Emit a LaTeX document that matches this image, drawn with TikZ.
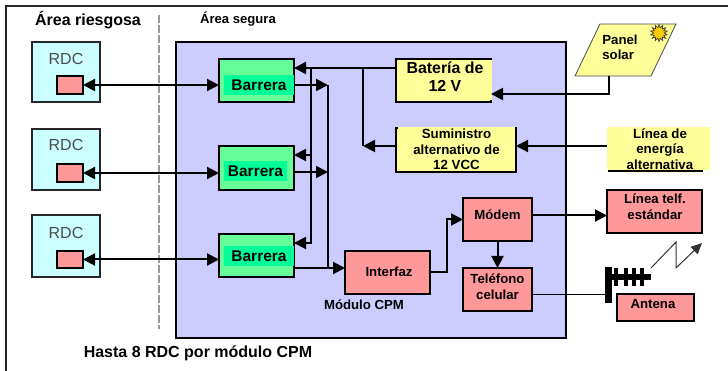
\documentclass[tikz,border=0pt]{standalone}
\usepackage{fontspec}
\setmainfont{Liberation Sans}
\usetikzlibrary{arrows.meta,shapes.geometric}
\definecolor{rdcfill}{HTML}{CCFFFF}
\definecolor{redfill}{HTML}{FF9999}
\definecolor{greenfill}{HTML}{66FF99}
\definecolor{greentext}{HTML}{00FF99}
\definecolor{bluefill}{HTML}{CCCCFF}
\definecolor{yellowfill}{HTML}{FFFF99}
\definecolor{sunfill}{HTML}{FFCC00}
\newcommand\fs[1]{\fontsize{#1}{#1}\selectfont}
\newcommand\bx[7]{\node[#6,minimum width={((#4)-(#2))*1pt},minimum height={((#5)-(#3))*1pt}] (#1) at ({((#2)+(#4))/2},{((#3)+(#5))/2}) {#7};}
\tikzset{
 base/.style={inner sep=0pt,outer sep=0pt,align=center},
 box/.style={base,draw=black,line width=2pt},
 rdcbox/.style={box,draw=black!85,fill=rdcfill},
 redbox/.style={box,fill=redfill},
 barbox/.style={box,fill=greenfill},
 yelbox/.style={box,fill=yellowfill},
 panel/.style={base,fill=bluefill,draw=black,line width=2pt},
 bartext/.style={base,fill=greentext,font=\bfseries\fs{15.5}},
 yeltext/.style={base,font=\bfseries\fs{13.3},execute at begin node=\setlength{\baselineskip}{15.3pt}},
 lbl/.style={base,font=\bfseries\fs{13.2},execute at begin node=\setlength{\baselineskip}{16pt}},
 rdclbl/.style={base,text=black!70,font=\fs{16}},
 conn/.style={line width=2pt,draw=black},
 arr/.style={conn,-{Triangle[length=12pt,width=12pt]}},
 darr/.style={conn,{Triangle[length=12pt,width=12pt]}-{Triangle[length=12pt,width=12pt]}},
}
\begin{document}
\begin{tikzpicture}[x=1pt,y=-1pt]
\useasboundingbox (0,0) rectangle (728,371);
\fill[white] (0,0) rectangle (728,371);
\coordinate (fa) at (6,371); \coordinate (fb) at (6,6); \coordinate (fc) at (728,6);
\draw[line width=2pt,black!85] (fa) -- (fb) -- (fc);
\coordinate (da) at (159,15); \coordinate (db) at (159,329);
\draw[line width=1.2pt,black!40,dash pattern=on 8pt off 2pt] (da) -- (db);
% module panel
\bx{mod}{176}{42}{566}{338}{panel}{}
% RDC
\bx{d1}{32}{42}{100}{102}{rdcbox}{}
\bx{d2}{32}{129}{100}{190}{rdcbox}{}
\bx{d3}{32}{215}{100}{277}{rdcbox}{}
\node[rdclbl] (dt1) at (66,59) {RDC};
\node[rdclbl] (dt2) at (66,145) {RDC};
\node[rdclbl] (dt3) at (66,233) {RDC};
\bx{r1}{57}{76}{83}{94}{redbox}{}
\bx{r2}{57}{164}{83}{182}{redbox}{}
\bx{r3}{57}{251}{83}{268}{redbox}{}
% Barriers
\bx{b1}{219}{59}{294}{102}{barbox}{}
\bx{b2}{219}{146}{294}{190}{barbox}{}
\bx{b3}{219}{234}{294}{277}{barbox}{}
\bx{bt1}{224}{75}{294}{95}{bartext}{Barrera}
\bx{bt2}{224}{161}{287}{181}{bartext}{Barrera}
\bx{bt3}{224}{246}{294}{266}{bartext}{Barrera}
% Supply
\bx{bat}{396}{59}{491}{102}{yelbox}{}
\bx{batfill}{397.5}{60}{492}{100.5}{base,fill=yellowfill}{}
\node[base,font=\bfseries\fs{15.9},execute at begin node=\setlength{\baselineskip}{18pt}] (battx) at (445,76.5) {Batería de\\12 V};
\bx{sum}{396}{128}{516}{172}{yelbox}{}
\bx{sumfill}{398}{127}{515}{169.5}{base,fill=yellowfill}{}
\node[yeltext] (sumtx) at (456.5,149.5) {Suministro\\alternativo de\\12 VCC};
\coordinate (lina) at (608,171); \coordinate (linb) at (703,171);
\draw[line width=2pt] (lina) -- (linb);
\bx{lin}{607}{127}{710}{170}{base,fill=yellowfill}{}
\node[yeltext] (lintx) at (660,149) {Línea de\\energía\\alternativa};
% Solar panel
\coordinate (s1) at (600,24); \coordinate (s2) at (676,24); \coordinate (s3) at (651,76); \coordinate (s4) at (575,76);
\draw[line width=0.8pt,draw=black!70,fill=yellowfill] (s1) -- (s2) -- (s3) -- (s4) -- cycle;
\node[base,font=\bfseries\fs{13.2},align=left,execute at begin node=\setlength{\baselineskip}{15pt}] (soltx) at (620,47) {Panel\\solar};
\node[star,star points=14,star point ratio=1.6,minimum size=17pt,inner sep=0pt,draw=black!75,fill=sunfill,line width=0.7pt] (sun) at (659,33) {};
% CPM
\bx{ifz}{345}{251}{430}{294}{redbox}{}
\node[lbl] (ifzt) at (389,272) {Interfaz};
\bx{mdm}{463}{198}{532}{241}{redbox}{}
\node[lbl] (mdmt) at (497.5,215) {Módem};
\bx{tel}{463}{268}{532}{311}{redbox}{}
\node[lbl] (telt) at (497.5,287) {Teléfono\\celular};
\bx{ltf}{607}{190}{702}{233}{redbox}{}
\node[lbl] (ltft) at (655,207) {Línea telf.\\estándar};
\bx{ant}{617}{294}{694}{321}{redbox}{}
\node[lbl] (antt) at (653,304) {Antena};
% Antenna
\bx{mast}{605}{267}{612}{303}{base,fill=black}{}
\bx{boom}{612}{274}{651}{280}{base,fill=black}{}
\bx{t1a}{614}{268}{618}{286}{base,fill=black}{}
\bx{t2a}{624}{268}{628}{286}{base,fill=black}{}
\bx{t3a}{632}{268}{636}{286}{base,fill=black}{}
\bx{t4a}{640}{268}{644}{286}{base,fill=black}{}
\coordinate (z1) at (651,268); \coordinate (z2) at (676,242); \coordinate (z3) at (676,268); \coordinate (z4) at (702,243);
\draw[line width=1pt,black!80,-{Triangle[length=11pt,width=10pt]}] (z1) -- (z2) -- (z3) -- (z4);
% Connectors
\draw[darr] (r1.east) -- (r1.east -| b1.west);
\draw[darr] (r2.east) -- (r2.east -| b2.west);
\draw[darr] (r3.east) -- (r3.east -| b3.west);
\coordinate (batout) at (bat.west |- 0,68);
\coordinate (b1in) at (b1.east |- 0,68);
\draw[arr] (batout) -- (b1in);
\coordinate (bus1) at (311,68);
\coordinate (b2in) at (b2.east |- 0,155);
\coordinate (b3in) at (b3.east |- 0,243);
\draw[arr] (bus1) |- (b3in);
\coordinate (bus1b) at (311,155);
\draw[arr] (bus1b) -- (b2in);
\coordinate (o1) at (294,85); \coordinate (o2) at (294,172);
\coordinate (bus2a) at (328,85); \coordinate (bus2b) at (328,172);
\draw[arr] (o1) -- (bus2a);
\draw[arr] (o2) -- (bus2b);
\coordinate (o3) at (294,268);
\coordinate (ifzin) at (ifz.west |- o3);
\draw[arr] (o3) -- (ifzin);
\coordinate (bus2c) at (328,268);
\draw[conn] (bus2a) -- (bus2c);
\coordinate (sumout) at (sum.west |- 0,146);
\coordinate (bat2) at (363,68);
\coordinate (bat3) at (363,146);
\draw[conn] (bat2) -- (bat3);
\draw[arr] (sumout) -- (bat3);
\draw[arr] (lin.west |- 0,146) -- (sum.east |- 0,146);
\coordinate (solout) at (609,76);
\draw[arr] (solout) |- (bat.east |- 0,94);
\coordinate (ifzout) at (ifz.east);
\draw[arr] (ifzout) -- (447,272.5) -- (447,219.5) -- (mdm.west);
\draw[arr] (mdm.east |- 0,215.5) -- (ltf.west |- 0,215.5);
\draw[arr] (mdm.south) -- (tel.north);
\draw[line width=1.3pt] (tel.east |- 0,294.5) -- (mast.west |- 0,294.5);
% Labels
\node[base,font=\bfseries\fs{16}] (t1) at (88,20.5) {Área riesgosa};
\node[base,font=\bfseries\fs{13.1}] (t2) at (238,19.5) {Área segura};
\node[lbl] (t3) at (364,304.5) {Módulo CPM};
\node[base,font=\bfseries\fs{16}] (t4) at (198,353) {Hasta 8 RDC por módulo CPM};
\end{tikzpicture}
\end{document}
